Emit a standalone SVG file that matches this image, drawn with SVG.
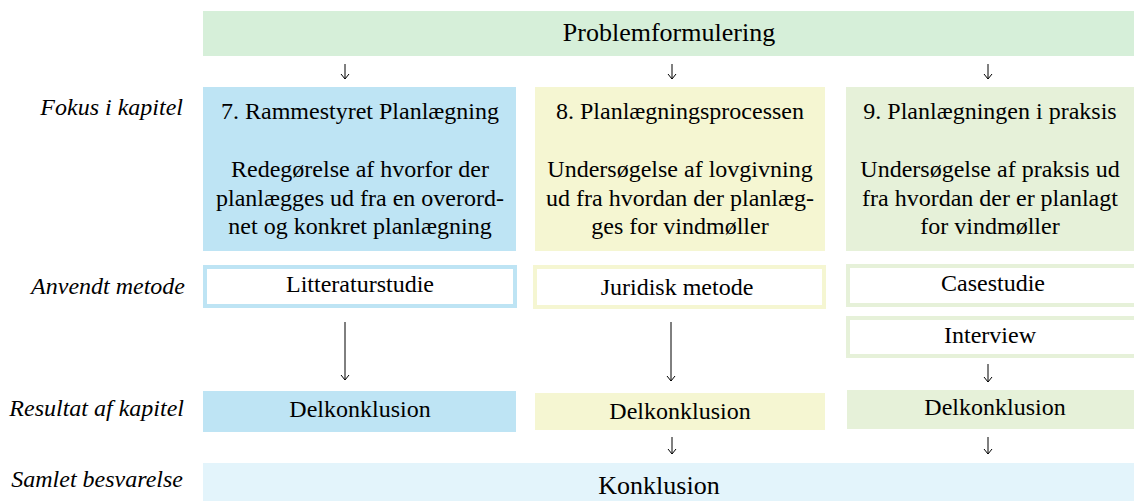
<svg xmlns="http://www.w3.org/2000/svg" width="1134" height="501" viewBox="0 0 1134 501" font-family="Liberation Serif">
<defs>
<marker id="ah" markerWidth="10" markerHeight="10" refX="9" refY="5" orient="auto" markerUnits="userSpaceOnUse" viewBox="0 0 10 10">
<path d="M4,1 L9,5 L4,9" fill="none" stroke="#000" stroke-width="1"/>
</marker>
</defs>
<rect width="1134" height="501" fill="#fff"/>
<g id="labels" font-style="italic" text-anchor="end" font-size="24" fill="#000">
<text x="183" y="115" font-family="Liberation Serif">Fokus i kapitel</text>
<text x="185" y="294" font-family="Liberation Serif">Anvendt metode</text>
<text x="184" y="416" font-family="Liberation Serif">Resultat af kapitel</text>
<text x="183" y="487" font-family="Liberation Serif">Samlet besvarelse</text>
</g>
<g id="problemformulering" text-anchor="middle">
<rect x="203" y="11" width="931" height="45" fill="#d6efd9"/>
<text x="669" y="41" font-size="26" font-family="Liberation Serif">Problemformulering</text>
</g>
<g id="kapitel7" text-anchor="middle" font-size="24">
<rect x="203" y="87" width="313" height="164" fill="#bee4f4"/>
<text x="360" y="119" font-family="Liberation Serif">7. Rammestyret Planlægning</text>
<text x="360" y="177" font-family="Liberation Serif">Redegørelse af hvorfor der</text>
<text x="360" y="206" font-family="Liberation Serif">planlægges ud fra en overord-</text>
<text x="360" y="234" font-family="Liberation Serif">net og konkret planlægning</text>
</g>
<g id="kapitel8" text-anchor="middle" font-size="24">
<rect x="535" y="87" width="290" height="164" fill="#f5f6d2"/>
<text x="680" y="119" font-family="Liberation Serif">8. Planlægningsprocessen</text>
<text x="680" y="177" font-family="Liberation Serif">Undersøgelse af lovgivning</text>
<text x="680" y="206" font-family="Liberation Serif">ud fra hvordan der planlæg-</text>
<text x="680" y="234" font-family="Liberation Serif">ges for vindmøller</text>
</g>
<g id="kapitel9" text-anchor="middle" font-size="24">
<rect x="846" y="87" width="288" height="164" fill="#e6f1d9"/>
<text x="990" y="119" font-family="Liberation Serif">9. Planlægningen i praksis</text>
<text x="990" y="177" font-family="Liberation Serif">Undersøgelse af praksis ud</text>
<text x="990" y="206" font-family="Liberation Serif">fra hvordan der er planlagt</text>
<text x="990" y="234" font-family="Liberation Serif">for vindmøller</text>
</g>
<g id="metode7" text-anchor="middle" font-size="24">
<rect x="205" y="267" width="310" height="39" fill="#fff" stroke="#bee4f4" stroke-width="4"/>
<text x="360" y="292" font-family="Liberation Serif">Litteraturstudie</text>
</g>
<g id="metode8" text-anchor="middle" font-size="24">
<rect x="535" y="267" width="289" height="40" fill="#fff" stroke="#f5f6d2" stroke-width="4"/>
<text x="677" y="295" font-family="Liberation Serif">Juridisk metode</text>
</g>
<g id="metode9a" text-anchor="middle" font-size="24">
<rect x="848" y="266" width="288" height="39" fill="#fff" stroke="#e6f1d9" stroke-width="4"/>
<text x="993" y="291" font-family="Liberation Serif">Casestudie</text>
</g>
<g id="metode9b" text-anchor="middle" font-size="24">
<rect x="848" y="318" width="288" height="38" fill="#fff" stroke="#e6f1d9" stroke-width="4"/>
<text x="990" y="343" font-family="Liberation Serif">Interview</text>
</g>
<g id="delkonklusion7" text-anchor="middle" font-size="24">
<rect x="203" y="391" width="313" height="41" fill="#bee4f4"/>
<text x="360" y="417" font-family="Liberation Serif">Delkonklusion</text>
</g>
<g id="delkonklusion8" text-anchor="middle" font-size="24">
<rect x="535" y="393" width="290" height="37" fill="#f5f6d2"/>
<text x="680" y="419" font-family="Liberation Serif">Delkonklusion</text>
</g>
<g id="delkonklusion9" text-anchor="middle" font-size="24">
<rect x="847" y="390" width="287" height="39" fill="#e6f1d9"/>
<text x="995" y="415" font-family="Liberation Serif">Delkonklusion</text>
</g>
<g id="konklusion" text-anchor="middle">
<rect x="203" y="463" width="931" height="38" fill="#e3f4fb"/>
<text x="659" y="494" font-size="26" font-family="Liberation Serif">Konklusion</text>
</g>
<g id="connectors" stroke="#000" stroke-width="1" fill="none" marker-end="url(#ah)">
<path d="M345,64 V79"/>
<path d="M672,64 V79"/>
<path d="M988,64 V79"/>
<path d="M345,322 V380"/>
<path d="M671,322 V381"/>
<path d="M988,364 V382"/>
<path d="M672,437 V454"/>
<path d="M988,437 V454"/>
</g>
</svg>
